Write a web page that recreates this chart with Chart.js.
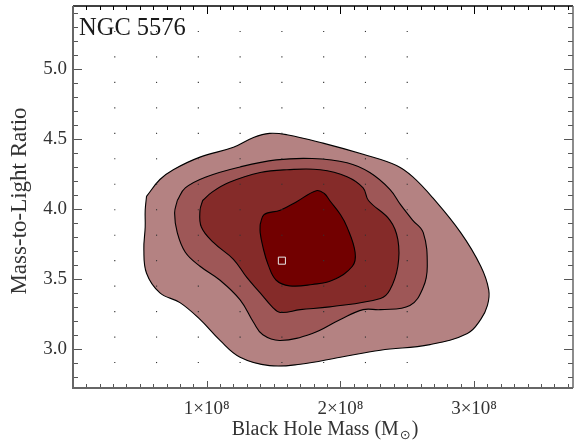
<!DOCTYPE html>
<html>
<head>
<meta charset="utf-8">
<script src="https://cdn.jsdelivr.net/npm/chart.js@4.4.1/dist/chart.umd.min.js"></script>
<style>
  body { margin: 0; background: #fff; }
</style>
</head>
<body>
<canvas id="dis" width="574" height="442"></canvas>
<script>
// black hole mass in units of 1e8 Msun, M/L ratio
const outerMass = [0.55, 0.65, 0.75, 0.95, 1.20, 1.35, 1.47, 1.60, 1.87, 2.17, 2.42, 2.54, 2.69, 2.90, 3.05, 3.11, 3.10, 3.05, 2.95, 2.67, 2.30, 2.00, 1.70, 1.47, 1.25, 1.10, 0.95, 0.80, 0.65, 0.55, 0.53, 0.54, 0.54];
const outerML   = [4.09, 4.21, 4.28, 4.37, 4.44, 4.51, 4.54, 4.53, 4.47, 4.39, 4.31, 4.23, 4.08, 3.83, 3.59, 3.42, 3.31, 3.21, 3.11, 3.03, 2.99, 2.94, 2.89, 2.88, 2.94, 3.06, 3.21, 3.33, 3.40, 3.54, 3.71, 3.87, 3.99];

const midMass = [0.78, 0.84, 1.00, 1.25, 1.52, 1.79, 2.05, 2.22, 2.37, 2.45, 2.54, 2.62, 2.65, 2.62, 2.52, 2.30, 2.17, 2.00, 1.79, 1.55, 1.42, 1.35, 1.25, 1.10, 0.95, 0.84, 0.78, 0.76];
const midML   = [4.06, 4.15, 4.23, 4.30, 4.35, 4.36, 4.33, 4.26, 4.14, 4.03, 3.92, 3.83, 3.59, 3.44, 3.31, 3.28, 3.28, 3.21, 3.11, 3.06, 3.10, 3.19, 3.35, 3.49, 3.59, 3.69, 3.83, 3.97];

const innerMass = [0.97, 1.04, 1.17, 1.40, 1.60, 1.85, 2.05, 2.17, 2.21, 2.37, 2.43, 2.43, 2.37, 2.30, 1.92, 1.70, 1.55, 1.49, 1.40, 1.30, 1.20, 1.05, 0.96, 0.95];
const innerML   = [4.06, 4.12, 4.19, 4.26, 4.28, 4.28, 4.23, 4.15, 4.06, 3.92, 3.78, 3.59, 3.42, 3.36, 3.30, 3.28, 3.26, 3.30, 3.40, 3.51, 3.64, 3.76, 3.87, 3.99];

const coreMass = [1.40, 1.43, 1.55, 1.67, 1.82, 1.88, 1.92, 2.00, 2.05, 2.11, 2.09, 1.94, 1.79, 1.62, 1.52, 1.46, 1.42, 1.40];
const coreML   = [3.89, 3.96, 3.99, 4.05, 4.13, 4.11, 4.06, 3.96, 3.87, 3.69, 3.59, 3.49, 3.46, 3.45, 3.49, 3.60, 3.73, 3.83];

// model grid points
const gridMass = [0.3125, 0.625, 0.9375, 1.25, 1.5625, 1.875, 2.1875, 2.5];
const gridML = [2.902, 3.084, 3.266, 3.448, 3.630, 3.812, 3.994, 4.176, 4.358, 4.540, 4.722, 4.904, 5.086, 5.268];

const bestMass = [1.5625];
const bestML = [3.630];

const xTicks = [1, 2, 3];
const yTicks = [3.0, 3.5, 4.0, 4.5, 5.0];

const levelColors = ['#b48282', '#9e5757', '#852b29', '#720000'];

function pts(xs, ys) {
  return xs.map((v, i) => ({ x: v, y: ys[i] }));
}
function closed(xs, ys) {
  const p = pts(xs, ys);
  p.push(p[0]);
  return p;
}

const gridPts = [];
gridMass.forEach(m => gridML.forEach(r => gridPts.push({ x: m, y: r })));

function contour(data, color) {
  return {
    data: data,
    showLine: true,
    fill: 'shape',
    backgroundColor: color,
    borderColor: '#000',
    borderWidth: 1.1,
    tension: 0.4,
    pointRadius: 0
  };
}

const serif = '"Liberation Serif", "Times New Roman", serif';

const frame = {
  id: 'frame',
  afterDatasetsDraw(chart) {
    const { ctx, chartArea: a, scales: { x, y } } = chart;
    ctx.save();
    // minor + major ticks
    for (let i = 1; i < 38; i++) {
      const px = Math.round(x.getPixelForValue(i / 10)) + 0.5;
      const major = i % 10 === 0;
      ctx.lineWidth = 1;
      ctx.strokeStyle = '#555';
      ctx.beginPath();
      ctx.moveTo(px, a.bottom);
      ctx.lineTo(px, a.bottom - (major ? 7 : 4));
      ctx.stroke();
      ctx.strokeStyle = '#000';
      ctx.beginPath();
      ctx.moveTo(px, a.top);
      ctx.lineTo(px, a.top + (major ? 8 : 4));
      ctx.stroke();
    }
    for (let i = 28; i <= 54; i++) {
      const py = Math.round(y.getPixelForValue(i / 10)) + 0.5;
      const major = i % 5 === 0;
      ctx.lineWidth = 1;
      ctx.strokeStyle = '#555';
      ctx.beginPath();
      ctx.moveTo(a.left, py);
      ctx.lineTo(a.left + (major ? 9 : 5), py);
      ctx.moveTo(a.right, py);
      ctx.lineTo(a.right - (major ? 9 : 5), py);
      ctx.stroke();
    }
    // box
    ctx.lineWidth = 1.5;
    ctx.strokeStyle = '#000';
    ctx.beginPath();
    ctx.moveTo(a.left, a.top);
    ctx.lineTo(a.right, a.top);
    ctx.stroke();
    ctx.strokeStyle = '#666';
    ctx.lineWidth = 2;
    ctx.beginPath();
    ctx.moveTo(a.left, a.top);
    ctx.lineTo(a.left, a.bottom);
    ctx.lineTo(a.right, a.bottom);
    ctx.stroke();
    ctx.lineWidth = 1.5;
    ctx.beginPath();
    ctx.moveTo(a.right, a.top);
    ctx.lineTo(a.right, a.bottom);
    ctx.stroke();

    // galaxy name
    ctx.fillStyle = '#1a1a1a';
    ctx.font = '24.5px ' + serif;
    ctx.textBaseline = 'alphabetic';
    ctx.textAlign = 'left';
    ctx.fillText('NGC 5576', 79, 35);

    // x axis title with subscript sun symbol
    ctx.fillStyle = '#333';
    ctx.font = '20px ' + serif;
    const t1 = 'Black Hole Mass (M';
    const cx = (a.left + a.right) / 2 + 2;
    let w1 = ctx.measureText(t1).width;
    ctx.font = '13px "DejaVu Sans", sans-serif';
    const w2 = ctx.measureText('\u2299').width;
    ctx.font = '20px ' + serif;
    const w3 = ctx.measureText(')').width;
    let sx = cx - (w1 + w2 + 2 + w3) / 2;
    ctx.fillText(t1, sx, 435);
    ctx.font = '13px "DejaVu Sans", sans-serif';
    ctx.fillText('\u2299', sx + w1 + 1, 439);
    ctx.font = '20px ' + serif;
    ctx.fillText(')', sx + w1 + w2 + 2, 435);

    // y axis title
    ctx.translate(20, 201);
    ctx.rotate(-Math.PI / 2);
    ctx.font = '23px ' + serif;
    ctx.textAlign = 'center';
    ctx.textBaseline = 'middle';
    ctx.fillText('Mass-to-Light Ratio', 0, 0);
    ctx.restore();
  }
};

window.onload = function() {
  const ctx = document.querySelector('#dis');

  new Chart(ctx, {
    type: 'scatter',
    data: {
      datasets: [
        {
          data: pts(bestMass, bestML),
          pointStyle: 'rect',
          pointRadius: 5,
          backgroundColor: levelColors[3],
          borderColor: '#e8e8e8',
          borderWidth: 1
        },
        {
          data: gridPts,
          pointStyle: 'rect',
          pointRadius: 0.8,
          backgroundColor: '#333',
          borderWidth: 0
        },
        contour(closed(coreMass, coreML), levelColors[3]),
        contour(closed(innerMass, innerML), levelColors[2]),
        contour(closed(midMass, midML), levelColors[1]),
        contour(closed(outerMass, outerML), levelColors[0])
      ]
    },
    options: {
      responsive: false,
      animation: false,
      layout: { autoPadding: false, padding: { top: 6, right: 1, left: 0, bottom: 0 } },
      plugins: { legend: { display: false }, tooltip: { enabled: false } },
      scales: {
        x: {
          type: 'linear',
          min: 0,
          max: 3.74,
          grid: { display: false, drawTicks: false },
          border: { display: false },
          afterBuildTicks: s => { s.ticks = xTicks.map(v => ({ value: v })); },
          afterFit: s => { s.height = 54; s.paddingLeft = 0; s.paddingRight = 0; },
          ticks: {
            padding: 10,
            color: '#333',
            font: { family: serif, size: 19 },
            callback: v => v + '\u00d710\u2078'
          }
        },
        y: {
          type: 'linear',
          min: 2.72,
          max: 5.45,
          grid: { display: false, drawTicks: false },
          border: { display: false },
          afterBuildTicks: s => { s.ticks = yTicks.map(v => ({ value: v })); },
          afterFit: s => { s.width = 73; s.paddingTop = 0; s.paddingBottom = 0; },
          ticks: {
            padding: 6,
            color: '#333',
            font: { family: serif, size: 19 },
            callback: v => v.toFixed(1)
          }
        }
      }
    },
    plugins: [frame]
  });
};
</script>
</body>
</html>
